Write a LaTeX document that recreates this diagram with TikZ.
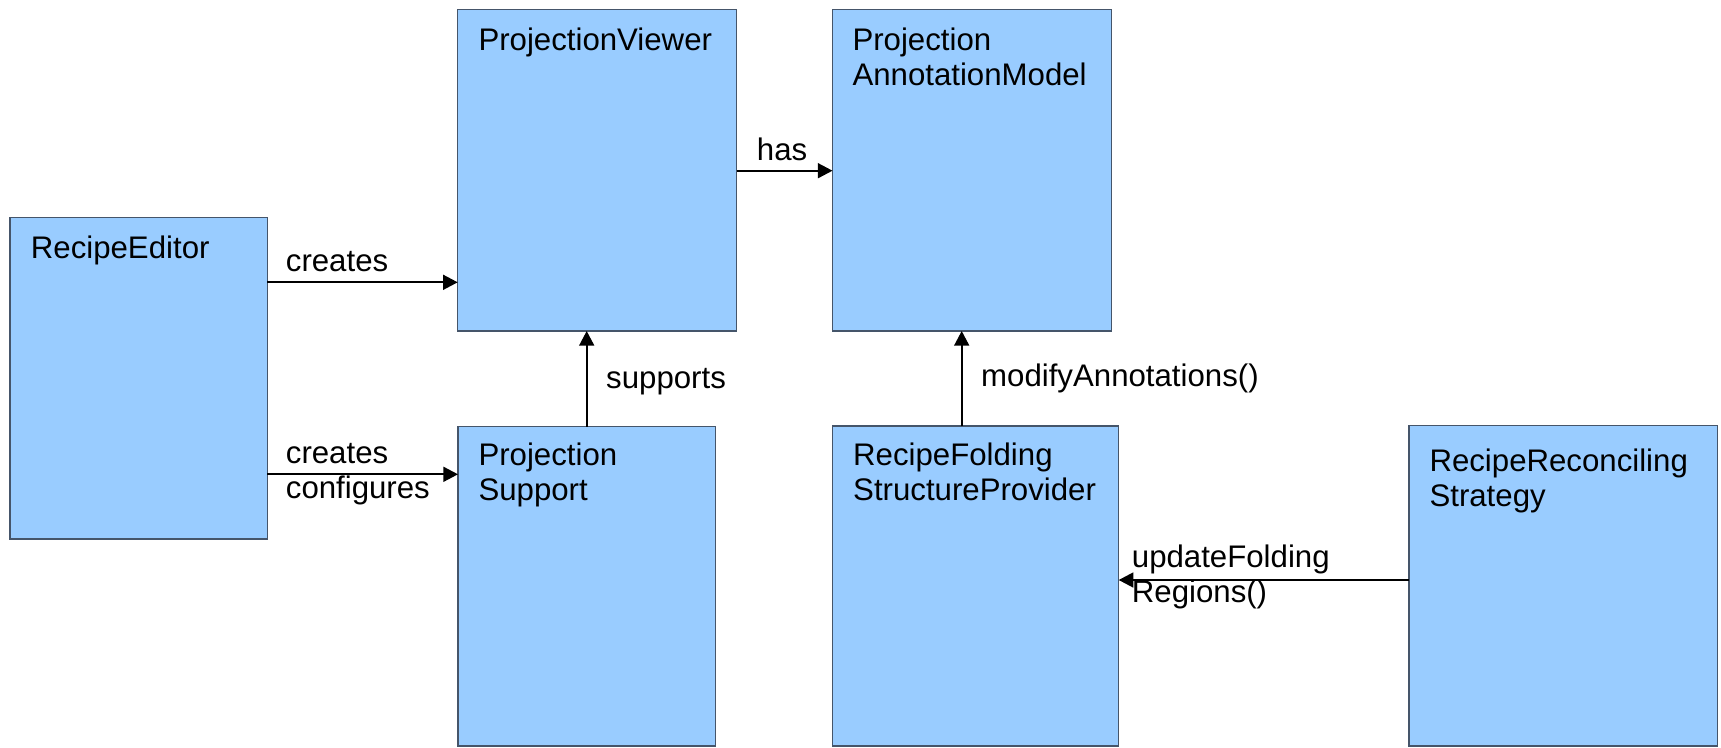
\documentclass[tikz,border=0pt]{standalone}
\usepackage{fontspec}
\setmainfont{Liberation Sans}
\usetikzlibrary{arrows.meta}
\definecolor{boxfill}{HTML}{99CCFF}
\definecolor{boxline}{HTML}{45556A}
\newcommand{\diagfont}{\fontsize{31.2}{35.2}\selectfont}
\newcommand{\twoline}[2]{\vtop{\hbox{#1}\hbox{#2}}}
\tikzset{
  classbox/.style={rectangle, draw=boxline, fill=boxfill, line width=1.5pt,
    anchor=north west, inner sep=0pt, outer sep=0pt},
  title/.style={anchor=base west, inner sep=0pt, font=\diagfont},
  edgetext/.style={anchor=base west, inner sep=0pt, font=\diagfont},
  conn/.style={draw=black, line width=1.8pt,
    -{Triangle[length=14.7pt,width=15pt]}},
}
\begin{document}
\begin{tikzpicture}[x=1pt,y=-1pt]
\useasboundingbox (0,0) rectangle (1721,747);

% class boxes
\node[classbox, minimum width=257.3pt, minimum height=321.3pt] (RE)   at (10,217.7) {};
\node[classbox, minimum width=279pt,   minimum height=321.3pt] (PV)   at (457.7,9.7) {};
\node[classbox, minimum width=278.8pt, minimum height=321.3pt] (PAM)  at (832.5,9.7) {};
\node[classbox, minimum width=257.3pt, minimum height=319.3pt] (PS)   at (458,426.7) {};
\node[classbox, minimum width=286.4pt, minimum height=320pt]   (RFSP) at (832.3,426) {};
\node[classbox, minimum width=308.3pt, minimum height=320.3pt] (RRS)  at (1409,425.7) {};

% class names
\node[title] (tRE)   at (30.7,258.3)   {RecipeEditor};
\node[title] (tPV)   at (478.3,50)     {ProjectionViewer};
\node[title] (tPAM)  at (852.3,50)     {\twoline{Projection}{AnnotationModel}};
\node[title] (tPS)   at (478.3,465.7)  {\twoline{Projection}{Support}};
\node[title] (tRFSP) at (853,465.7)    {\twoline{RecipeFolding}{StructureProvider}};
\node[title] (tRRS)  at (1429.3,471.7) {\twoline{RecipeReconciling}{Strategy}};

% connectors
\draw[conn] (RE.east |- 0,282.3) -- (PV.west |- 0,282.3);
\draw[conn] (RE.east |- 0,474.3) -- (PS.west |- 0,474.3);
\draw[conn] (PV.east |- 0,170.7) -- (PAM.west |- 0,170.7);
\draw[conn] (PS.north -| 586.7,0) -- (PV.south -| 586.7,0);
\draw[conn] (RFSP.north -| 961.7,0) -- (PAM.south -| 961.7,0);
\draw[conn] (RRS.west |- 0,580) -- (RFSP.east |- 0,580);

% connector labels
\node[edgetext] (lCreates)   at (285.7,271.7) {creates};
\node[edgetext] (lConfig)    at (285.7,463.3) {\twoline{creates}{configures}};
\node[edgetext] (lHas)       at (756.7,160)   {has};
\node[edgetext] (lSupports)  at (606,388.3)   {supports};
\node[edgetext] (lModify)    at (981,386.7)   {modifyAnnotations()};
\node[edgetext] (lUpdate)    at (1131.7,567)  {\twoline{updateFolding}{Regions()}};
\end{tikzpicture}
\end{document}
